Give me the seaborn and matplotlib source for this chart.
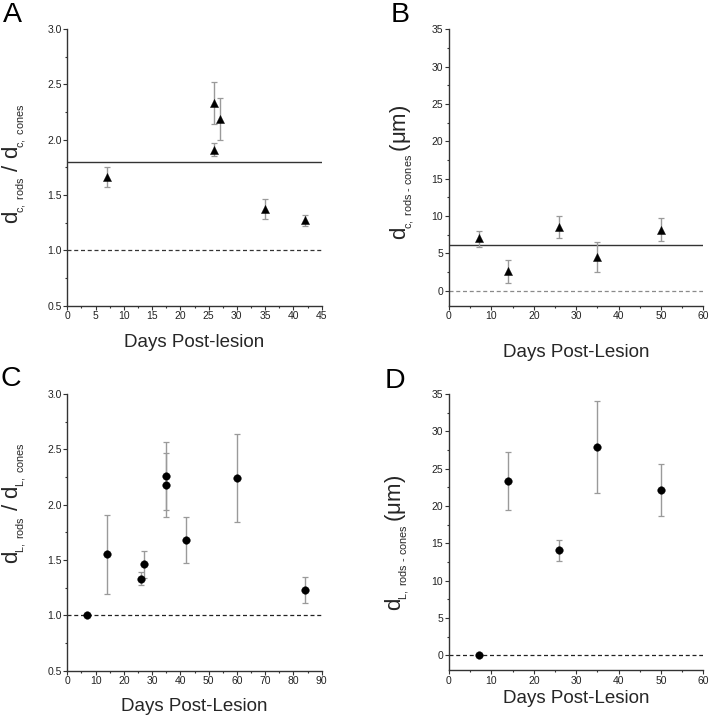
import numpy as np
import matplotlib
matplotlib.use("Agg")
import matplotlib.pyplot as plt
import seaborn as sns
from matplotlib.ticker import MultipleLocator, FormatStrFormatter

# ---------------- data ----------------
a_days = [7, 26, 26, 27, 35, 42]
a_vals = [1.66, 2.33, 1.91, 2.19, 1.37, 1.27]
a_lo = [1.57, 2.14, 1.85, 2.00, 1.28, 1.22]
a_hi = [1.75, 2.52, 1.97, 2.38, 1.46, 1.32]
a_mean = 1.80
a_ref = 1.0

b_days = [7, 14, 26, 35, 50]
b_vals = [7.0, 2.7, 8.6, 4.5, 8.2]
b_lo = [5.9, 1.1, 7.1, 2.5, 6.6]
b_hi = [8.0, 4.1, 10.0, 6.5, 9.7]
b_mean = 6.1
b_ref = 0.0

c_days = [7, 14, 26, 27, 35, 35, 42, 60, 84]
c_vals = [1.00, 1.55, 1.33, 1.46, 2.26, 2.18, 1.68, 2.24, 1.23]
c_lo = [1.00, 1.19, 1.27, 1.34, 1.95, 1.89, 1.47, 1.84, 1.11]
c_hi = [1.00, 1.91, 1.39, 1.58, 2.57, 2.47, 1.89, 2.64, 1.35]
c_ref = 1.0

d_days = [7, 14, 26, 35, 50]
d_vals = [0.0, 23.3, 14.1, 27.9, 22.1]
d_lo = [0.0, 19.4, 12.7, 21.8, 18.7]
d_hi = [0.0, 27.3, 15.5, 34.0, 25.6]
d_ref = 0.0

# ---------------- style ----------------
sns.set_style("ticks")
plt.rcParams["font.family"] = ["Liberation Sans", "DejaVu Sans"]
plt.rcParams["mathtext.fontset"] = "custom"
plt.rcParams["mathtext.rm"] = "Liberation Sans"
plt.rcParams["mathtext.it"] = "Liberation Sans:italic"
plt.rcParams["mathtext.bf"] = "Liberation Sans:bold"

fig = plt.figure(figsize=(7.09, 7.19), dpi=100)
W, H = 709, 719


def add_ax(left, top, right, bottom):
    return fig.add_axes([left / W, 1 - bottom / H, (right - left) / W, (bottom - top) / H])


axA = add_ax(67.3, 29.0, 321.7, 305.7)
axB = add_ax(449.0, 29.3, 703.3, 305.7)
axC = add_ax(67.3, 394.0, 321.7, 670.7)
axD = add_ax(449.0, 394.0, 703.3, 670.3)

SPINE = "#333333"
ERR = "#9a9a9a"


def style(ax, xlim, xmaj, ylim, ymaj, yfmt):
    ax.set_facecolor("white")
    for s in ["top", "right"]:
        ax.spines[s].set_visible(False)
    for s in ["left", "bottom"]:
        ax.spines[s].set_color(SPINE)
        ax.spines[s].set_linewidth(1.0)
    ax.set_xlim(*xlim)
    ax.set_ylim(*ylim)
    ax.xaxis.set_major_locator(MultipleLocator(xmaj))
    ax.xaxis.set_minor_locator(MultipleLocator(xmaj / 2))
    ax.yaxis.set_major_locator(MultipleLocator(ymaj))
    ax.yaxis.set_minor_locator(MultipleLocator(ymaj / 2))
    ax.yaxis.set_major_formatter(FormatStrFormatter(yfmt))
    ax.tick_params(which="major", direction="out", length=2.6, width=0.8,
                   color=SPINE, labelsize=7.5, labelcolor="#222222", pad=1.5)
    ax.tick_params(which="minor", direction="out", length=1.6, width=0.8, color=SPINE)
    ax.grid(False)


def draw(ax, days, vals, lo, hi, marker, size):
    vals_a = np.asarray(vals)
    yerr = [vals_a - np.asarray(lo), np.asarray(hi) - vals_a]
    ax.errorbar(days, vals, yerr=yerr, fmt="none", ecolor=ERR, elinewidth=1.0,
                capsize=2.4, capthick=0.9, zorder=2)
    sns.scatterplot(x=days, y=vals, marker=marker, s=size, color="black",
                    edgecolor="black", linewidth=0.3, ax=ax, zorder=3, legend=False)


LBL = 16
SUB_A = r"$\mathregular{d_{{}_{\!c,\ rods}}\ /\ d_{{}_{\!c,\ cones}}}$"
SUB_B = r"$\mathregular{d_{{}_{\!c,\ rods\ \text{-}\ cones}}\,(μm)}$"
SUB_C = r"$\mathregular{d_{{}_{\!L,\ rods}}\ /\ d_{{}_{\!L,\ cones}}}$"
SUB_D = r"$\mathregular{d_{{}_{\!L,\ rods\ \text{-}\ cones}}\,(μm)}$"

# ---- Panel A ----
style(axA, (0, 45), 5, (0.5, 3.0), 0.5, "%.1f")
axA.axhline(a_mean, color="#333333", lw=1.0, zorder=1)
axA.axhline(a_ref, color="#333333", lw=0.9, ls=(0, (3.2, 2.2)), zorder=1)
draw(axA, a_days, a_vals, a_lo, a_hi, "^", 34)
axA.set_xlabel("Days Post-lesion", fontsize=13.5, va="center")
axA.xaxis.set_label_coords(0.5, -0.134)
axA.set_ylabel(SUB_A, fontsize=LBL, va="center")
axA.yaxis.set_label_coords(-0.21, 0.514)

# ---- Panel B ----
style(axB, (0, 60), 10, (-2, 35), 5, "%d")
axB.axhline(b_mean, color="#333333", lw=1.0, zorder=1)
axB.axhline(b_ref, color="#8a8a8a", lw=0.9, ls=(0, (3.2, 2.2)), zorder=1)
draw(axB, b_days, b_vals, b_lo, b_hi, "^", 34)
axB.set_xlabel("Days Post-Lesion", fontsize=13.5, va="center")
axB.xaxis.set_label_coords(0.5, -0.168)
axB.set_ylabel(SUB_B, fontsize=LBL, va="center")
axB.yaxis.set_label_coords(-0.185, 0.484)

# ---- Panel C ----
style(axC, (0, 90), 10, (0.5, 3.0), 0.5, "%.1f")
axC.axhline(c_ref, color="#222222", lw=0.9, ls=(0, (3.2, 2.2)), zorder=1)
draw(axC, c_days, c_vals, c_lo, c_hi, "o", 30)
axC.set_xlabel("Days Post-Lesion", fontsize=13.5, va="center")
axC.xaxis.set_label_coords(0.5, -0.130)
axC.set_ylabel(SUB_C, fontsize=LBL, va="center")
axC.yaxis.set_label_coords(-0.21, 0.604)

# ---- Panel D ----
style(axD, (0, 60), 10, (-2, 35), 5, "%d")
axD.axhline(d_ref, color="#222222", lw=0.9, ls=(0, (3.2, 2.2)), zorder=1)
draw(axD, d_days, d_vals, d_lo, d_hi, "o", 30)
axD.set_xlabel("Days Post-Lesion", fontsize=13.5, va="center")
axD.xaxis.set_label_coords(0.5, -0.101)
axD.set_ylabel(SUB_D, fontsize=LBL, va="center")
axD.yaxis.set_label_coords(-0.204, 0.461)

# ---- Panel letters ----
for letter, x, y in [("A", 3, 2), ("B", 391, 2), ("C", 1, 366), ("D", 385, 368)]:
    fig.text(x / W, 1 - y / H, letter, fontsize=20.5, ha="left", va="top", color="black")

fig.savefig("out.png", dpi=100, facecolor="white")
